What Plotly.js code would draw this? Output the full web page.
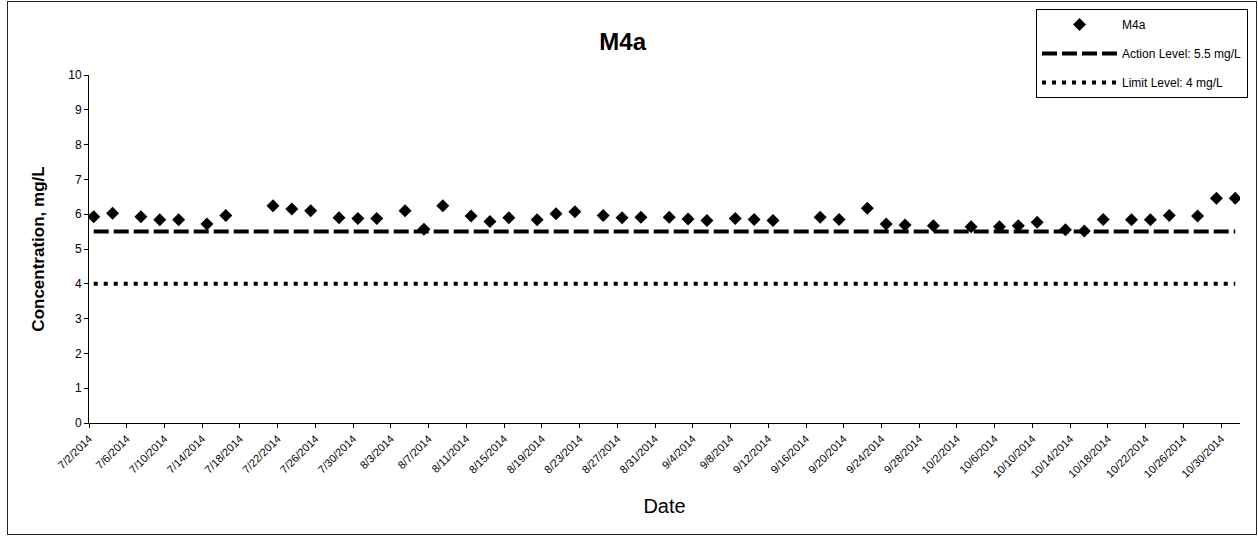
<!DOCTYPE html>
<html>
<head>
<meta charset="utf-8">
<script src="https://cdn.plot.ly/plotly-3.0.1.min.js"></script>
<style>
  html, body { margin: 0; padding: 0; background: #fff; }
  #chart { width: 1258px; height: 541px; }
  #frame { position: absolute; left: 7px; top: 1px; width: 1250px; height: 534px;
           border: 1px solid #222; box-sizing: border-box; pointer-events: none; }
</style>
</head>
<body>
<div id="chart"></div>
<div id="frame"></div>
<script>
// ---- data ----
const sampleDates = [
  '2014-07-02','2014-07-04','2014-07-07','2014-07-09','2014-07-11','2014-07-14','2014-07-16',
  '2014-07-21','2014-07-23','2014-07-25','2014-07-28','2014-07-30','2014-08-01','2014-08-04',
  '2014-08-06','2014-08-08','2014-08-11','2014-08-13','2014-08-15','2014-08-18','2014-08-20',
  '2014-08-22','2014-08-25','2014-08-27','2014-08-29','2014-09-01','2014-09-03','2014-09-05',
  '2014-09-08','2014-09-10','2014-09-12','2014-09-17','2014-09-19','2014-09-22','2014-09-24',
  '2014-09-26','2014-09-29','2014-10-03','2014-10-06','2014-10-08','2014-10-10','2014-10-13',
  '2014-10-15','2014-10-17','2014-10-20','2014-10-22','2014-10-24','2014-10-27','2014-10-29',
  '2014-10-31'
];
const m4aValues = [
  5.93, 6.03, 5.93, 5.84, 5.84, 5.72, 5.96,
  6.24, 6.15, 6.10, 5.90, 5.88, 5.88, 6.10,
  5.57, 6.24, 5.95, 5.79, 5.90, 5.84, 6.01,
  6.07, 5.96, 5.90, 5.91, 5.91, 5.86, 5.82,
  5.88, 5.85, 5.82, 5.91, 5.85, 6.17, 5.72,
  5.69, 5.67, 5.64, 5.64, 5.67, 5.77, 5.55,
  5.52, 5.85, 5.84, 5.84, 5.96, 5.95, 6.46,
  6.46
];
const actionLevel = 5.5;
const limitLevel = 4;
const seriesNames = ['M4a', 'Action Level: 5.5 mg/L', 'Limit Level: 4 mg/L'];
const axisStart = '2014-07-02';
const axisEnd = '2014-11-01';
const tickStepDays = 4;

// Excel date axis places each day's point in the middle of its day slot
const mid = d => d + ' 12:00';
const xPts = sampleDates.map(mid);
const xLine = [xPts[0], xPts[xPts.length - 1]];

const FONT = 'Liberation Sans, Arial, Helvetica, sans-serif';

const traces = [
  { x: xPts, y: m4aValues, name: seriesNames[0], type: 'scatter', mode: 'markers',
    legendgroup: 'a',
    marker: { symbol: 'diamond', size: 10, color: '#000' } },
  { x: xLine, y: [actionLevel, actionLevel], name: seriesNames[1], type: 'scatter', mode: 'lines',
    legendgroup: 'b',
    line: { color: '#000', width: 4, dash: '15px,5px' } },
  { x: xLine, y: [limitLevel, limitLevel], name: seriesNames[2], type: 'scatter', mode: 'lines',
    legendgroup: 'c',
    line: { color: '#000', width: 4, dash: '4px,6px' } }
];

const layout = {
  width: 1258, height: 541,
  paper_bgcolor: '#fff', plot_bgcolor: '#fff',
  font: { family: FONT, color: '#000' },
  margin: { l: 89, r: 18, t: 75, b: 118, pad: 0, autoexpand: false },
  title: { text: '<b>M4a</b>', font: { size: 24, family: FONT, color: '#000' },
           xref: 'container', x: 0.495, xanchor: 'center',
           yref: 'container', y: 1 - 42 / 541, yanchor: 'middle' },
  showlegend: true,
  legend: {
    xref: 'container', yref: 'container',
    x: 1036 / 1258, xanchor: 'left', y: 1 - 9 / 541, yanchor: 'top',
    bgcolor: '#fff', bordercolor: '#000', borderwidth: 1,
    font: { size: 12, family: FONT, color: '#000' },
    traceorder: 'grouped', tracegroupgap: 10,
    itemwidth: 75
  },
  xaxis: {
    type: 'date',
    range: [axisStart, axisEnd],
    tick0: axisStart, dtick: tickStepDays * 86400000,
    tickformat: '%-m/%-d/%Y', tickangle: -45,
    ticks: 'outside', ticklen: 4, tickcolor: '#000',
    tickfont: { size: 11, family: FONT, color: '#000' },
    showline: true, linecolor: '#000', linewidth: 1,
    showgrid: false, zeroline: false, mirror: false,
    automargin: false,
    title: { text: 'Date', font: { size: 20, family: FONT, color: '#000' }, standoff: 20 }
  },
  yaxis: {
    range: [0, 10], dtick: 1, tick0: 0,
    ticks: 'outside', ticklen: 4, tickcolor: '#000',
    tickfont: { size: 12, family: FONT, color: '#000' },
    showline: true, linecolor: '#000', linewidth: 1,
    showgrid: false, zeroline: false,
    automargin: false,
    title: { text: '<b>Concentration, mg/L</b>', font: { size: 17, family: FONT, color: '#000' }, standoff: 19 }
  }
};

Plotly.newPlot('chart', traces, layout, { staticPlot: true, displayModeBar: false });
</script>
</body>
</html>
